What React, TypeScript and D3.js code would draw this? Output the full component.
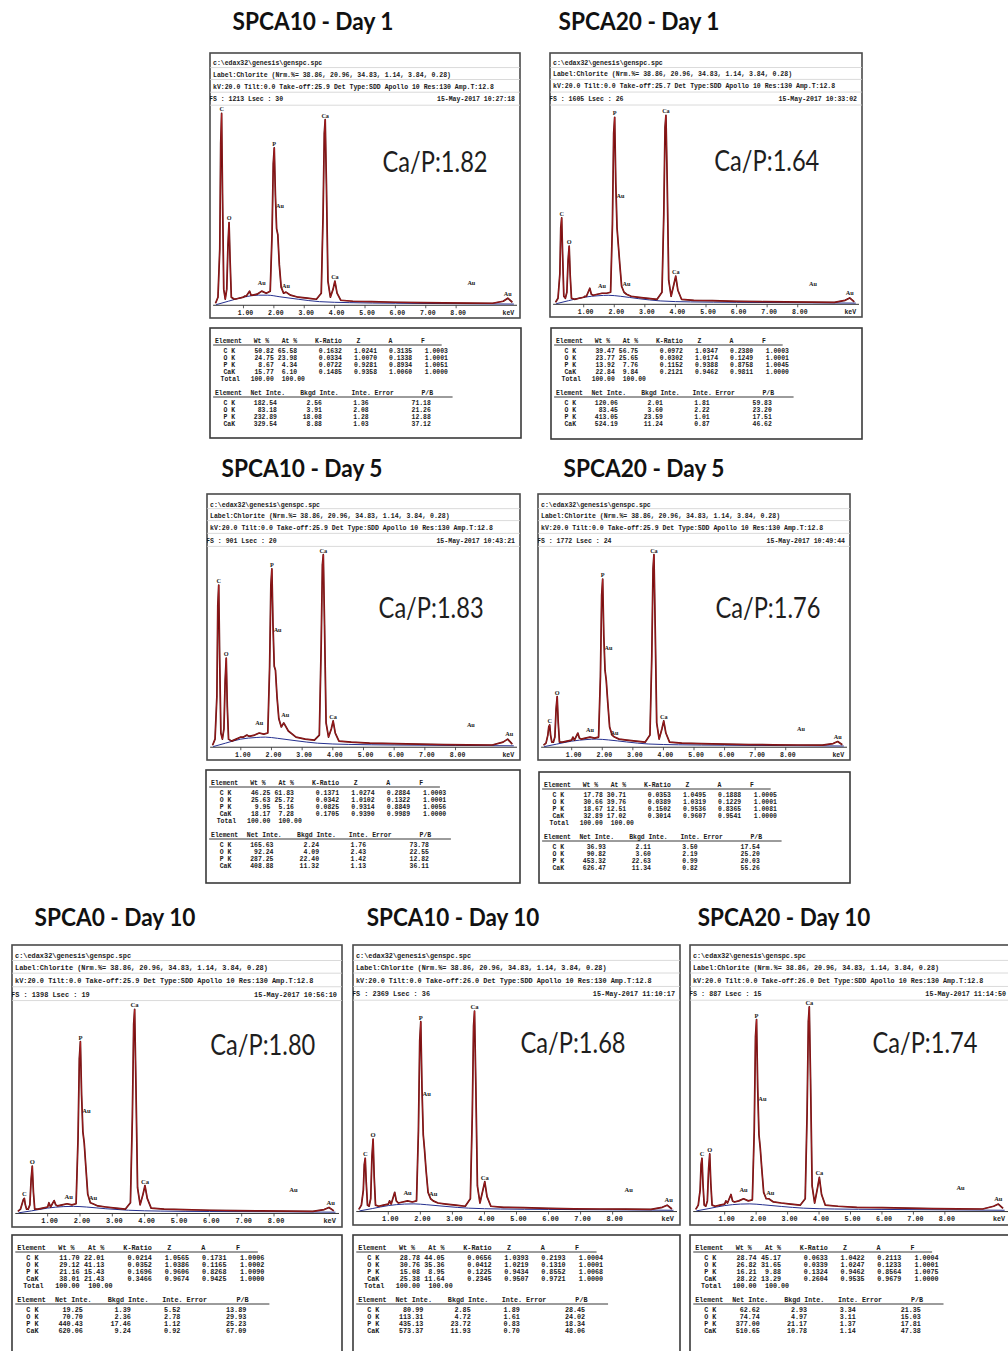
import React from 'react';
import * as d3 from 'd3';

const TITLES = ['SPCA10 - Day 1', 'SPCA20 - Day 1', 'SPCA10 - Day 5', 'SPCA20 - Day 5', 'SPCA0 - Day 10', 'SPCA10 - Day 10', 'SPCA20 - Day 10'];
const FS = ['1213', '1605', '901', '1772', '1398', '2369', '887'];
const LSEC = ['30', '26', '20', '24', '19', '36', '15'];
const TAKEOFF = ['25.9', '25.7', '25.9', '25.9', '25.9', '26.0', '26.0'];
const STAMPS = ['15-May-2017 10:27:18', '15-May-2017 10:33:02', '15-May-2017 10:43:21', '15-May-2017 10:49:44', '15-May-2017 10:56:10', '15-May-2017 11:10:17', '15-May-2017 11:14:50'];
const CA_P = ['1.82', '1.64', '1.83', '1.76', '1.80', '1.68', '1.74'];
const PATH_LINE = 'c:\\edax32\\genesis\\genspc.spc';
const LABEL_LINE = 'Label:Chlorite (Nrm.%= 38.86, 20.96, 34.83, 1.14, 3.84, 0.28)';

const ELEMENTS = ['C K', 'O K', 'P K', 'CaK'];
const QUANT_COLUMNS = ['Wt %', 'At %', 'K-Ratio', 'Z', 'A', 'F'];
const QUANT_DECIMALS = [2, 2, 4, 4, 4, 4];
const INTE_COLUMNS = ['Net Inte.', 'Bkgd Inte.', 'Inte. Error', 'P/B'];
const TOTALS = [100.0, 100.0];

const QUANT = [
  [[50.82, 65.58, 0.1632, 1.0241, 0.3135, 1.0003], [24.75, 23.98, 0.0334, 1.0070, 0.1338, 1.0001], [8.67, 4.34, 0.0722, 0.9281, 0.8934, 1.0051], [15.77, 6.10, 0.1485, 0.9358, 1.0060, 1.0000]],
  [[39.47, 56.75, 0.0972, 1.0347, 0.2380, 1.0003], [23.77, 25.65, 0.0302, 1.0174, 0.1249, 1.0001], [13.92, 7.76, 0.1152, 0.9388, 0.8758, 1.0045], [22.84, 9.84, 0.2121, 0.9462, 0.9811, 1.0000]],
  [[46.25, 61.83, 0.1371, 1.0274, 0.2884, 1.0003], [25.63, 25.72, 0.0342, 1.0102, 0.1322, 1.0001], [9.95, 5.16, 0.0825, 0.9314, 0.8849, 1.0056], [18.17, 7.28, 0.1705, 0.9390, 0.9989, 1.0000]],
  [[17.78, 30.71, 0.0353, 1.0495, 0.1888, 1.0005], [30.66, 39.76, 0.0389, 1.0319, 0.1229, 1.0001], [18.67, 12.51, 0.1502, 0.9536, 0.8365, 1.0081], [32.89, 17.02, 0.3014, 0.9607, 0.9541, 1.0000]],
  [[11.70, 22.01, 0.0214, 1.0565, 0.1731, 1.0006], [29.12, 41.13, 0.0352, 1.0386, 0.1165, 1.0002], [21.16, 15.43, 0.1696, 0.9606, 0.8268, 1.0090], [38.01, 21.43, 0.3466, 0.9674, 0.9425, 1.0000]],
  [[28.78, 44.05, 0.0656, 1.0393, 0.2193, 1.0004], [30.76, 35.36, 0.0412, 1.0219, 0.1310, 1.0001], [15.08, 8.95, 0.1225, 0.9434, 0.8552, 1.0068], [25.38, 11.64, 0.2345, 0.9507, 0.9721, 1.0000]],
  [[28.74, 45.17, 0.0633, 1.0422, 0.2113, 1.0004], [26.82, 31.65, 0.0339, 1.0247, 0.1233, 1.0001], [16.21, 9.88, 0.1324, 0.9462, 0.8564, 1.0075], [28.22, 13.29, 0.2604, 0.9535, 0.9679, 1.0000]],
];

const INTE = [
  [[182.54, 2.56, 1.36, 71.18], [83.18, 3.91, 2.08, 21.26], [232.89, 18.08, 1.28, 12.88], [329.54, 8.88, 1.03, 37.12]],
  [[120.06, 2.01, 1.81, 59.83], [83.45, 3.60, 2.22, 23.20], [413.05, 23.59, 1.01, 17.51], [524.19, 11.24, 0.87, 46.62]],
  [[165.63, 2.24, 1.76, 73.78], [92.24, 4.09, 2.43, 22.55], [287.25, 22.40, 1.42, 12.82], [408.88, 11.32, 1.13, 36.11]],
  [[36.93, 2.11, 3.50, 17.54], [90.82, 3.60, 2.19, 25.20], [453.32, 22.63, 0.99, 20.03], [626.47, 11.34, 0.82, 55.26]],
  [[19.25, 1.39, 5.52, 13.89], [70.70, 2.36, 2.78, 29.93], [440.43, 17.46, 1.12, 25.23], [620.06, 9.24, 0.92, 67.09]],
  [[80.99, 2.85, 1.89, 28.45], [113.31, 4.72, 1.61, 24.02], [435.13, 23.72, 0.83, 18.34], [573.37, 11.93, 0.70, 48.06]],
  [[62.62, 2.93, 3.34, 21.35], [74.74, 4.97, 3.11, 15.03], [377.00, 21.17, 1.37, 17.81], [510.65, 10.78, 1.14, 47.38]],
];

// Spectrum: energy grid (keV) shared, counts in % of full scale for each panel
const ENERGY = [0.08, 0.16, 0.22, 0.25, 0.28, 0.31, 0.35, 0.40, 0.45, 0.49, 0.525, 0.56, 0.60, 0.70, 0.85, 1.00, 1.04, 1.09, 1.20, 1.25, 1.31, 1.45, 1.60, 1.75, 1.88, 1.94, 1.98, 2.013, 2.05, 2.09, 2.13, 2.18, 2.24, 2.32, 2.40, 2.55, 2.80, 3.10, 3.40, 3.56, 3.62, 3.66, 3.69, 3.73, 3.78, 3.86, 3.95, 4.01, 4.08, 4.20, 4.60, 5.20, 6.00, 6.80, 7.60, 8.40, 9.20, 9.55, 9.70, 9.85];
const COUNTS_SPCA10_D1 = [1, 4, 28, 80, 95, 55, 8, 3, 8, 30, 41, 22, 4, 3, 3.5, 4, 4.5, 4.5, 7, 5, 5, 5.5, 7, 6, 7, 35, 70, 78, 55, 38, 35, 20, 9, 6, 6.5, 5, 4, 3.5, 3, 6, 45, 85, 92, 60, 12, 4, 8, 12, 6, 2.5, 2, 1.8, 1.5, 1.3, 1.2, 1.1, 1, 2, 3.5, 1.5];
const COUNTS_SPCA20_D1 = [1, 3, 15, 38, 43, 25, 4, 3, 6, 22, 29, 14, 3, 2.5, 3, 3.5, 4, 4, 8, 5, 4.5, 5, 5.5, 5.5, 6, 40, 85, 93, 60, 38, 30, 20, 9, 6, 5, 4, 3.5, 3, 2.5, 6, 45, 88, 94, 62, 12, 4, 10, 14, 7, 2.5, 2, 1.8, 1.5, 1.3, 1.2, 1.1, 1, 2, 3.2, 1.2];
const COUNTS_SPCA10_D5 = [1, 4, 25, 70, 80, 45, 7, 4, 9, 33, 44, 20, 4, 3, 4, 5, 5, 5, 6, 5.5, 5.5, 6, 7, 6.5, 7, 40, 80, 88, 60, 40, 38, 25, 14, 10, 12, 8, 5, 4, 3.5, 6, 50, 90, 95, 60, 12, 5, 9, 13, 7, 3, 2.5, 2, 1.8, 1.5, 1.3, 1.2, 1.1, 2.5, 4, 1.5];
const COUNTS_SPCA20_D5 = [1, 2, 6, 10, 11, 6, 2.5, 2.5, 5, 19, 25, 12, 2.5, 2.5, 3, 3.5, 5, 3.5, 7, 4.5, 4, 4.5, 5, 4.5, 5, 35, 75, 83, 55, 38, 33, 22, 10, 6, 5, 4, 3.5, 3, 2.5, 6, 45, 88, 95, 60, 12, 4, 9, 13, 7, 2.5, 2, 1.8, 1.5, 1.3, 1.2, 1.1, 1, 1.8, 2.8, 1.2];
const COUNTS_SPCA0_D10 = [1, 2, 5, 6.5, 7, 4, 2, 2, 4, 16, 22, 10, 2, 2, 2.5, 3, 5, 3, 6, 4, 3.5, 4, 4.5, 4, 4.5, 35, 72, 80, 55, 38, 33, 22, 9, 5, 4.5, 3.5, 3, 2.5, 2, 5, 45, 88, 95, 60, 12, 4, 9, 13, 7, 2.5, 2, 1.8, 1.5, 1.3, 1.2, 1.1, 1, 1.8, 2.8, 1.2];
const COUNTS_SPCA10_D10 = [1, 3, 10, 22, 25, 14, 3, 2.5, 6, 26, 34, 16, 3, 2.5, 3, 3.5, 5, 3.5, 9, 5, 4, 4.5, 5, 4.5, 5, 38, 80, 89, 58, 36, 29, 19, 9, 6, 5, 4, 3.5, 3, 2.5, 6, 45, 87, 94, 60, 12, 4, 10, 14, 7, 2.5, 2, 1.8, 1.5, 1.3, 1.2, 1.1, 1, 2, 3, 1.2];
const COUNTS_SPCA20_D10 = [1, 3, 10, 22, 25, 13, 3, 2.5, 5, 20, 27, 13, 3, 2.5, 3, 3.5, 5, 4, 8, 5, 4.5, 5, 6, 5, 5.5, 38, 82, 90, 58, 36, 30, 20, 9, 6, 6, 4.5, 4, 3.5, 3, 6, 46, 89, 96, 62, 12, 4, 11, 16, 8, 3, 2.5, 2, 1.8, 1.6, 1.4, 1.3, 1.2, 2.5, 3.5, 1.5];
const COUNTS = [COUNTS_SPCA10_D1, COUNTS_SPCA20_D1, COUNTS_SPCA10_D5, COUNTS_SPCA20_D5, COUNTS_SPCA0_D10, COUNTS_SPCA10_D10, COUNTS_SPCA20_D10];

// Fitted background (blue curve)
const BG_ENERGY = [0.1, 0.5, 1.0, 1.5, 1.8, 2.2, 2.8, 3.5, 4.5, 6, 8, 9.9];
const BACKGROUND = [
  [0.3, 2, 4, 5, 5, 4.2, 3, 1.8, 1.3, 1, 0.8, 0.6],
  [0.3, 1.8, 3.5, 4.3, 4.5, 4, 2.8, 1.7, 1.2, 1, 0.8, 0.6],
  [0.3, 2, 4, 4.8, 5, 4.4, 3.2, 2, 1.4, 1.1, 0.9, 0.7],
  [0.3, 1.5, 3, 3.8, 4, 3.6, 2.6, 1.6, 1.2, 1, 0.8, 0.6],
  [0.3, 1.2, 2.5, 3.2, 3.3, 3, 2.2, 1.5, 1.1, 0.9, 0.8, 0.6],
  [0.3, 1.4, 2.8, 3.5, 3.6, 3.2, 2.4, 1.6, 1.2, 1, 0.8, 0.6],
  [0.3, 1.4, 2.8, 3.5, 3.6, 3.2, 2.4, 1.6, 1.2, 1, 0.8, 0.6],
];

// Peak labels: [text, keV, level]
const PEAK_LABELS = [
  [['C', 0.28, 95], ['O', 0.525, 41], ['P', 2.013, 78], ['Au', 2.2, 47], ['Ca', 3.69, 92], ['Au', 1.6, 9], ['Au', 2.4, 7.5], ['Ca', 4.01, 12], ['Au', 8.5, 9], ['Au', 9.7, 3.5]],
  [['C', 0.28, 43], ['O', 0.525, 29], ['P', 2.013, 93], ['Au', 2.2, 52], ['Ca', 3.69, 94], ['Au', 1.6, 7], ['Au', 2.4, 8], ['Ca', 4.01, 14], ['Au', 8.5, 8], ['Au', 9.7, 3.5]],
  [['C', 0.28, 80], ['O', 0.525, 44], ['P', 2.013, 88], ['Au', 2.2, 56], ['Ca', 3.69, 95], ['Au', 1.6, 10], ['Au', 2.45, 14], ['Ca', 4.01, 13], ['Au', 8.5, 9], ['Au', 9.75, 4.5]],
  [['C', 0.28, 11], ['O', 0.525, 25], ['P', 2.013, 83], ['Au', 2.2, 47], ['Ca', 3.69, 95], ['Au', 1.6, 6.5], ['Au', 2.4, 5], ['Ca', 4.01, 13], ['Au', 8.5, 7], ['Au', 9.7, 3.2]],
  [['C', 0.28, 7], ['O', 0.525, 22], ['P', 2.013, 80], ['Au', 2.2, 46], ['Ca', 3.69, 95], ['Au', 1.65, 6], ['Au', 2.4, 5.5], ['Ca', 4.01, 13], ['Au', 8.6, 9], ['Au', 9.75, 3.2]],
  [['C', 0.28, 25], ['O', 0.525, 34], ['P', 2.013, 89], ['Au', 2.2, 53], ['Ca', 3.69, 94], ['Au', 1.6, 7], ['Au', 2.4, 6.5], ['Ca', 4.01, 14], ['Au', 8.5, 8], ['Au', 9.75, 3.5]],
  [['C', 0.28, 25], ['O', 0.525, 27], ['P', 2.013, 90], ['Au', 2.2, 51], ['Ca', 3.69, 96], ['Au', 1.6, 8], ['Au', 2.45, 7], ['Ca', 4.01, 16], ['Au', 8.5, 9], ['Au', 9.7, 4]],
];

const TICKS = [1, 2, 3, 4, 5, 6, 7, 8];

// Layout (pixels) for each panel
const LAYOUT = [
  { box: [210, 53, 310, 265], table: [210, 328, 311, 110], title: [313, 30], ratio: [0.726, 0.41] },
  { box: [550, 53, 312, 264], table: [551, 328, 311, 111], title: [639, 30], ratio: [0.695, 0.41] },
  { box: [207, 494, 313, 266], table: [206, 770, 314, 113], title: [302, 477], ratio: [0.716, 0.43] },
  { box: [538, 494, 312, 266], table: [539, 772, 311, 111], title: [644, 477], ratio: [0.737, 0.43] },
  { box: [12, 945, 330, 282], table: [12, 1235, 330, 124], title: [115, 926], ratio: [0.76, 0.355] },
  { box: [353, 945, 327, 280], table: [353, 1235, 327, 124], title: [453, 926], ratio: [0.673, 0.35] },
  { box: [690, 945, 321, 280], table: [690, 1235, 325, 124], title: [784, 926], ratio: [0.732, 0.35] },
];

const MONO = '"Liberation Mono", "DejaVu Sans Mono", monospace';
const SERIF = '"Liberation Serif", "DejaVu Serif", serif';
const SANS = 'Lato, "Open Sans", "Noto Sans", sans-serif';

function Spectrum({ i }) {
  const L = LAYOUT[i];
  const [bx, by, bw, bh] = L.box;
  const fs = (6.5 * Math.max(bw, 310)) / 310;
  const x0 = bx + 0.01 * bw;
  const x = d3.scaleLinear().domain([0, 10]).range([x0, x0 + 0.98 * bw]);
  const y = d3.scaleLinear().domain([0, 100]).range([by + 0.952 * bh, by + 0.19 * bh]);
  const line = d3.line().x((_, k) => x(ENERGY[k])).y((v) => y(v));
  const bgLine = d3.line().curve(d3.curveMonotoneX).x((_, k) => x(BG_ENERGY[k])).y((v) => y(v));
  const hy = [0.047, 0.089, 0.134, 0.183].map((f) => by + f * bh);
  const sep = [0.055, 0.1, 0.148, 0.197].map((f) => by + f * bh);
  const axisY = y(0);
  const clipId = `clip${i}`;
  return (
    <g>
      <defs>
        <clipPath id={clipId}>
          <rect x={bx} y={by} width={bw} height={bh} />
        </clipPath>
      </defs>
      <rect x={bx} y={by} width={bw} height={bh} fill="#fff" stroke="#4a4a4a" strokeWidth={1.6} />
      <g clipPath={`url(#${clipId})`}>
        {sep.map((s, k) => (
          <line key={k} x1={bx} x2={bx + bw} y1={s} y2={s} stroke="#d0d0d0" strokeWidth={0.8} />
        ))}
        <g fontFamily={MONO} fontWeight="bold" fontSize={fs} fill="#1a1a1a" style={{ whiteSpace: 'pre' }}>
          <text x={bx + 3} y={hy[0]}>{PATH_LINE}</text>
          <text x={bx + 3} y={hy[1]}>{LABEL_LINE}</text>
          <text x={bx + 3} y={hy[2]}>{`kV:20.0 Tilt:0.0 Take-off:${TAKEOFF[i]}   Det Type:SDD Apollo 10 Res:130 Amp.T:12.8`}</text>
          <text x={bx - 1} y={hy[3]}>{`FS : ${FS[i]}  Lsec : ${LSEC[i]}`}</text>
          <text x={bx + bw - 5} y={hy[3]} textAnchor="end">{STAMPS[i]}</text>
        </g>
        <line x1={x(0)} x2={bx + bw - 3} y1={axisY} y2={axisY} stroke="#333" strokeWidth={1} />
        {TICKS.map((t) => (
          <g key={t}>
            <line x1={x(t)} x2={x(t)} y1={axisY} y2={axisY + 3} stroke="#333" strokeWidth={0.8} />
            <text x={x(t) + 2} y={by + 0.987 * bh} textAnchor="middle" fontFamily={MONO} fontWeight="bold" fontSize={fs} fill="#1a1a1a">
              {d3.format('.2f')(t)}
            </text>
          </g>
        ))}
        <text x={x(9.72)} y={by + 0.987 * bh} textAnchor="middle" fontFamily={MONO} fontWeight="bold" fontSize={fs} fill="#1a1a1a">keV</text>
        <path d={bgLine(BACKGROUND[i])} fill="none" stroke="#25308f" strokeWidth={1} />
        <path d={line(COUNTS[i])} fill="none" stroke="#5a0c0c" strokeWidth={1.7} strokeLinejoin="round" />
        <path d={line(COUNTS[i])} fill="none" stroke="#c42426" strokeWidth={0.6} strokeLinejoin="round" />
        {PEAK_LABELS[i].map(([t, e, v], k) => (
          <text key={k} x={x(e)} y={y(v) - 2} textAnchor="middle" fontFamily={SERIF} fontWeight="bold" fontSize={fs * 0.95} fill="#1a1a1a">
            {t}
          </text>
        ))}
        <text x={bx + L.ratio[0] * bw} y={by + L.ratio[1] * bh + 10} textAnchor="middle" fontFamily={SANS} fontSize={28} fill="#1e1e1e" textLength={105} lengthAdjust="spacingAndGlyphs">
          {`Ca/P:${CA_P[i]}`}
        </text>
      </g>
    </g>
  );
}

function Table({ i }) {
  const L = LAYOUT[i];
  const [tx, ty, tw, th] = L.table;
  const fs = (6.4 * tw) / 310;
  const qRight = [0.205, 0.28, 0.424, 0.537, 0.65, 0.765];
  const qHead = [[0.19, 'end'], [0.28, 'end'], [0.424, 'end'], [0.477, 'middle'], [0.58, 'middle'], [0.685, 'middle']];
  const totalRight = [0.205, 0.305];
  const iRight = [0.215, 0.36, 0.51, 0.71];
  const iHead = [0.13, 0.29, 0.455, 0.68];
  const rowsA = [25, 32, 39, 46];
  const rowsB = [77, 84, 91, 98];
  const X = (f) => tx + f * tw;
  const clipId = `tclip${i}`;
  return (
    <g>
      <defs>
        <clipPath id={clipId}>
          <rect x={tx} y={ty} width={tw} height={th} />
        </clipPath>
      </defs>
      <rect x={tx} y={ty} width={tw} height={th} fill="#fff" stroke="#3a3a3a" strokeWidth={1.6} />
      <g clipPath={`url(#${clipId})`} fontFamily={MONO} fontWeight="bold" fontSize={fs} fill="#1a1a1a" style={{ whiteSpace: 'pre' }}>
        <text x={X(0.016)} y={ty + 15}>Element</text>
        {QUANT_COLUMNS.map((c, k) => (
          <text key={c} x={X(qHead[k][0])} y={ty + 15} textAnchor={qHead[k][1]}>{c}</text>
        ))}
        <line x1={X(0.01)} x2={X(0.745)} y1={ty + 17} y2={ty + 17} stroke="#222" strokeWidth={0.9} />
        {ELEMENTS.map((el, r) => (
          <g key={el}>
            <text x={X(0.062)} y={ty + rowsA[r]} textAnchor="middle">{el}</text>
            {QUANT[i][r].map((v, c) => (
              <text key={c} x={X(qRight[c])} y={ty + rowsA[r]} textAnchor="end">{v.toFixed(QUANT_DECIMALS[c])}</text>
            ))}
          </g>
        ))}
        <text x={X(0.065)} y={ty + 53} textAnchor="middle">Total</text>
        {TOTALS.map((v, k) => (
          <text key={k} x={X(totalRight[k])} y={ty + 53} textAnchor="end">{v.toFixed(2)}</text>
        ))}

        <text x={X(0.016)} y={ty + 67}>Element</text>
        {INTE_COLUMNS.map((c, k) => (
          <text key={c} x={X(iHead[k])} y={ty + 67}>{c}</text>
        ))}
        <line x1={X(0.01)} x2={X(0.78)} y1={ty + 69} y2={ty + 69} stroke="#222" strokeWidth={0.9} />
        {ELEMENTS.map((el, r) => (
          <g key={el}>
            <text x={X(0.062)} y={ty + rowsB[r]} textAnchor="middle">{el}</text>
            {INTE[i][r].map((v, c) => (
              <text key={c} x={X(iRight[c])} y={ty + rowsB[r]} textAnchor="end">{v.toFixed(2)}</text>
            ))}
          </g>
        ))}
      </g>
    </g>
  );
}

export default function App() {
  return (
    <svg width={1008} height={1351} style={{ position: 'absolute', left: 0, top: 0, background: '#fff' }}>
      <rect x={0} y={0} width={1008} height={1351} fill="#fff" />
      {TITLES.map((t, i) => (
        <text key={t} x={LAYOUT[i].title[0]} y={LAYOUT[i].title[1]} textAnchor="middle" fontFamily={SANS} fontWeight="bold" fontSize={25} fill="#111" textLength={t.length * 11.5} lengthAdjust="spacingAndGlyphs">
          {t}
        </text>
      ))}
      {TITLES.map((t, i) => (
        <g key={`p${i}`}>
          <Spectrum i={i} />
          <Table i={i} />
        </g>
      ))}
    </svg>
  );
}
